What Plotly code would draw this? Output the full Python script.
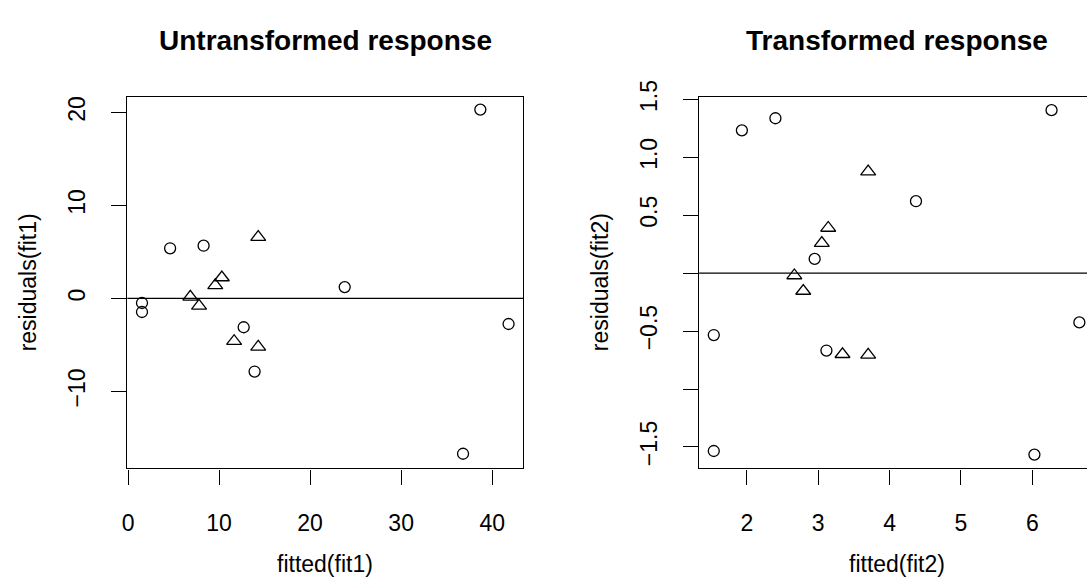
import plotly.graph_objects as go

# ---------------- data ----------------
# Left panel: untransformed response
fit1_circle_x = [38.7, 4.62, 8.3, 23.8, 1.53, 1.53, 12.7, 13.9, 41.8, 36.8]
fit1_circle_y = [20.3, 5.39, 5.67, 1.22, -0.49, -1.46, -3.1, -7.86, -2.75, -16.7]
fit1_tri_x = [14.3, 10.3, 9.58, 6.84, 7.8, 11.65, 14.3]
fit1_tri_y = [6.6, 2.25, 1.4, 0.17, -0.8, -4.6, -5.2]

# Right panel: transformed response
fit2_circle_x = [1.93, 2.40, 6.27, 4.37, 2.95, 1.536, 3.115, 6.66, 1.536, 6.03]
fit2_circle_y = [1.233, 1.337, 1.407, 0.621, 0.123, -0.534, -0.668, -0.425, -1.535, -1.566]
fit2_tri_x = [3.70, 3.14, 3.05, 2.665, 2.79, 3.34, 3.70]
fit2_tri_y = [0.876, 0.39, 0.26, -0.02, -0.154, -0.70, -0.705]

left_xticks = [0, 10, 20, 30, 40]
left_yticks = [-10, 0, 10, 20]
left_yticktext = ["\u221210", "0", "10", "20"]
right_xticks = [2, 3, 4, 5, 6]
right_yticks = [-1.5, -1.0, -0.5, 0.0, 0.5, 1.0, 1.5]
right_yticktext = ["\u22121.5", "", "\u22120.5", "", "0.5", "1.0", "1.5"]

titles = ["Untransformed response", "Transformed response"]
xlabels = ["fitted(fit1)", "fitted(fit2)"]
ylabels = ["residuals(fit1)", "residuals(fit2)"]

# ---------------- figure ----------------
W, H = 1087, 580
FONT = "Liberation Sans, Arial, Helvetica, sans-serif"
TICK = 23

fig = go.Figure()

circ = dict(symbol="circle-open", size=11, color="black", line=dict(width=1.3, color="black"))
tri = dict(symbol="triangle-up-open", size=13, color="black", line=dict(width=1.3, color="black"))

fig.add_trace(go.Scatter(x=fit1_circle_x, y=fit1_circle_y, mode="markers", marker=circ,
                         xaxis="x", yaxis="y", showlegend=False, cliponaxis=False))
fig.add_trace(go.Scatter(x=fit1_tri_x, y=fit1_tri_y, mode="markers", marker=tri,
                         xaxis="x", yaxis="y", showlegend=False, cliponaxis=False))
fig.add_trace(go.Scatter(x=fit2_circle_x, y=fit2_circle_y, mode="markers", marker=circ,
                         xaxis="x2", yaxis="y2", showlegend=False, cliponaxis=False))
fig.add_trace(go.Scatter(x=fit2_tri_x, y=fit2_tri_y, mode="markers", marker=tri,
                         xaxis="x2", yaxis="y2", showlegend=False, cliponaxis=False))

# plot-region geometry (pixels)
L1, R1 = 122, 520
L2, R2 = 697, 1087
TOP, BOT = 82, 465

def px(v):
    return v / W

def py(v):
    return 1 - v / H

ydom = [py(BOT), py(TOP)]

axis_common = dict(
    showgrid=False, zeroline=False, showline=True, linecolor="black", linewidth=1.3,
    ticks="outside", ticklen=15, tickwidth=1.2, tickcolor="black",
    tickfont=dict(family=FONT, size=TICK, color="black"),
)

fig.update_layout(
    width=W, height=H,
    margin=dict(l=0, r=0, t=0, b=0),
    paper_bgcolor="white", plot_bgcolor="white",
    xaxis=dict(domain=[px(L1), px(R1)], range=[-0.08, 43.4], anchor="y",
               tickvals=left_xticks, mirror=True, ticklabelstandoff=19, **axis_common),
    yaxis=dict(domain=ydom, range=[-18.27, 21.7], anchor="x",
               tickvals=left_yticks, ticktext=left_yticktext, tickangle=-90,
               mirror=True, ticklabelstandoff=17, **axis_common),
    xaxis2=dict(domain=[px(L2), px(R2)], range=[1.331, 6.767], anchor="y2",
                tickvals=right_xticks, mirror=True, ticklabelstandoff=19, **axis_common),
    yaxis2=dict(domain=ydom, range=[-1.685, 1.524], anchor="x2",
                tickvals=right_yticks, ticktext=right_yticktext, tickangle=-90,
                mirror=False, ticklabelstandoff=17, **axis_common),
)

# horizontal reference lines at 0 (abline(h = 0))
for xr, yr in (("x", "y"), ("x2", "y2")):
    fig.add_shape(type="line", xref=f"{xr} domain", yref=yr, x0=0, x1=1, y0=0, y1=0,
                  line=dict(color="black", width=1.3))

# titles and axis labels
centers = [(L1 + R1) / 2, (L2 + 1094) / 2]
yaxis_x = [L1, L2]
for i in range(2):
    fig.add_annotation(text=f"<b>{titles[i]}</b>", xref="paper", yref="paper",
                       x=px(centers[i]), y=py(24), xanchor="center", yanchor="middle",
                       showarrow=False, font=dict(family=FONT, size=28, color="black"))
    fig.add_annotation(text=xlabels[i], xref="paper", yref="paper",
                       x=px(centers[i]), y=py(564), xanchor="center", yanchor="middle",
                       showarrow=False, font=dict(family=FONT, size=TICK, color="black"))
    fig.add_annotation(text=ylabels[i], xref="paper", yref="paper",
                       x=px(yaxis_x[i] - 99), y=py((TOP + BOT) / 2), xanchor="center",
                       yanchor="middle", textangle=-90,
                       showarrow=False, font=dict(family=FONT, size=TICK, color="black"))

fig.write_html("out.html", config={"displayModeBar": False},
               post_script="document.body.style.margin='0';")
